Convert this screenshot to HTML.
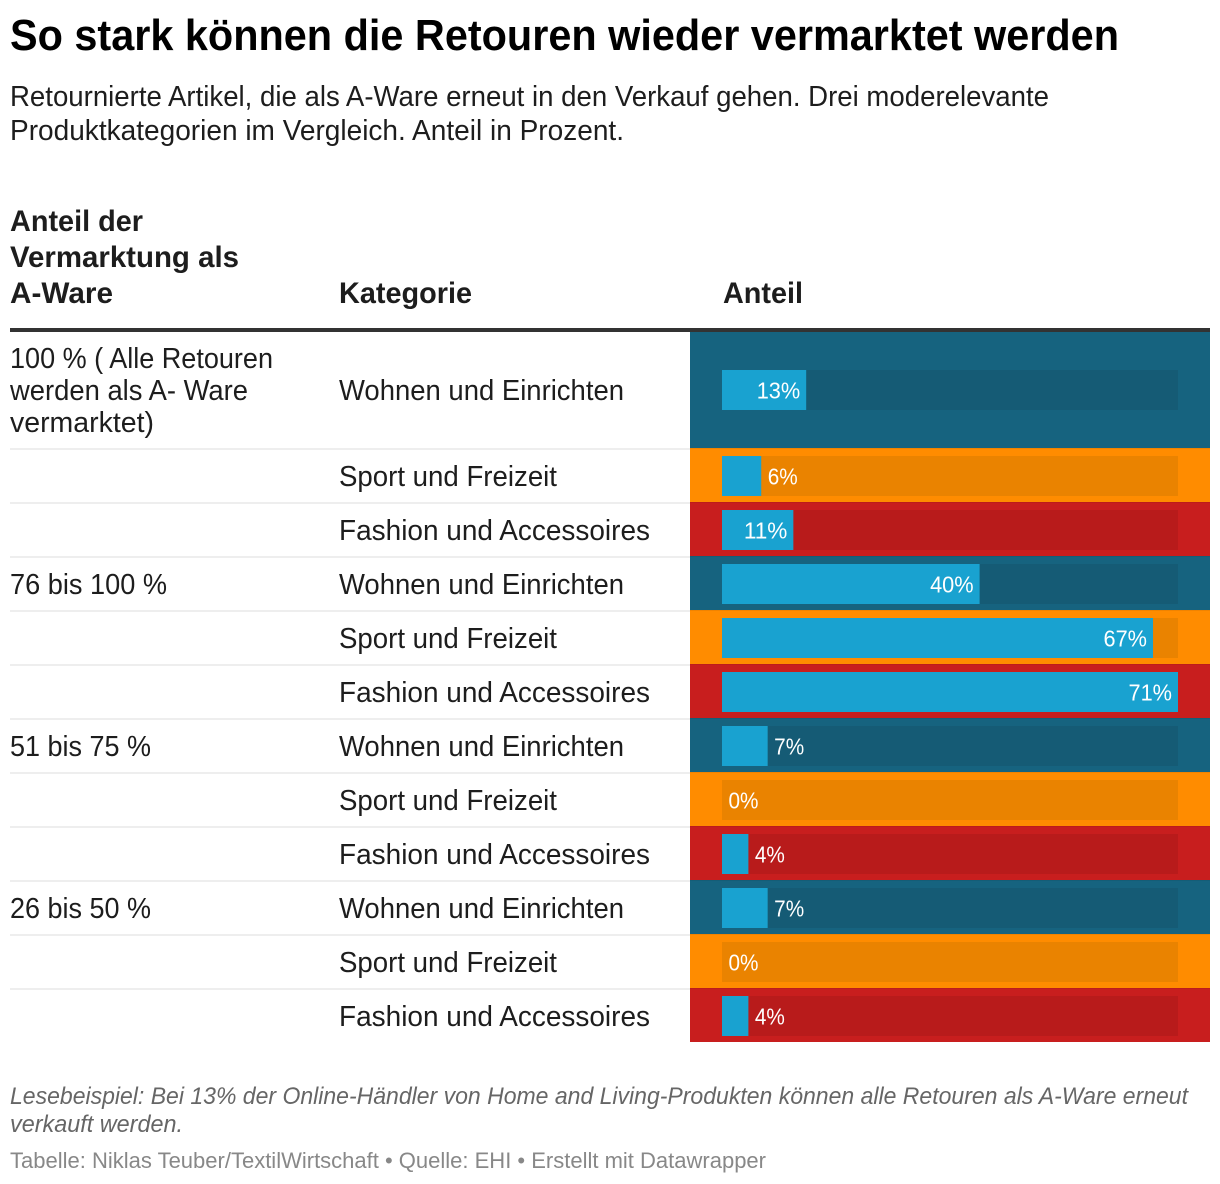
<!DOCTYPE html>
<html lang="de">
<head>
<meta charset="utf-8">
<title>So stark können die Retouren wieder vermarktet werden</title>
<style>
html,body{margin:0;padding:0;background:#fff;width:1220px;height:1184px;overflow:hidden}
svg{display:block}
text{font-family:"Liberation Sans",Arial,sans-serif}
.title{font-size:44px;font-weight:bold;fill:#000}
.sub{font-size:28.5px;fill:#1d1d1d}
.head{font-size:30px;font-weight:bold;fill:#1d1d1d}
.cell{font-size:28.5px;fill:#1d1d1d}
.note{font-size:24.5px;font-style:italic;fill:#666}
.src{font-size:22.5px;fill:#888}
.val{font-size:23px;fill:#fff}
</style>
</head>
<body>
<svg id="chart" width="1220" height="1184" viewBox="0 0 1220 1184" xmlns="http://www.w3.org/2000/svg">
<text class="title" x="10" y="50" textLength="1109" lengthAdjust="spacingAndGlyphs">So stark können die Retouren wieder vermarktet werden</text>
<text class="sub" x="10" y="106" textLength="1039" lengthAdjust="spacingAndGlyphs">Retournierte Artikel, die als A-Ware erneut in den Verkauf gehen. Drei moderelevante</text>
<text class="sub" x="10" y="140" textLength="614" lengthAdjust="spacingAndGlyphs">Produktkategorien im Vergleich. Anteil in Prozent.</text>

<text class="head" x="10" y="231" textLength="133" lengthAdjust="spacingAndGlyphs">Anteil der</text>
<text class="head" x="10" y="267" textLength="229" lengthAdjust="spacingAndGlyphs">Vermarktung als</text>
<text class="head" x="10" y="303" textLength="103" lengthAdjust="spacingAndGlyphs">A-Ware</text>
<text class="head" x="339" y="303" textLength="133" lengthAdjust="spacingAndGlyphs">Kategorie</text>
<text class="head" x="723" y="303" textLength="80" lengthAdjust="spacingAndGlyphs">Anteil</text>
<rect x="10" y="328" width="1200" height="4" fill="#333"/>

<g id="separators"></g>
<g id="bars"></g>

<text class="cell" x="10" y="368" textLength="263" lengthAdjust="spacingAndGlyphs">100 % ( Alle Retouren</text>
<text class="cell" x="10" y="400" textLength="238" lengthAdjust="spacingAndGlyphs">werden als A- Ware</text>
<text class="cell" x="10" y="432" textLength="144" lengthAdjust="spacingAndGlyphs">vermarktet)</text>
<text class="cell" x="10" y="594" textLength="157" lengthAdjust="spacingAndGlyphs">76 bis 100 %</text>
<text class="cell" x="10" y="756" textLength="141" lengthAdjust="spacingAndGlyphs">51 bis 75 %</text>
<text class="cell" x="10" y="918" textLength="141" lengthAdjust="spacingAndGlyphs">26 bis 50 %</text>

<text class="cell" x="339" y="400" textLength="285" lengthAdjust="spacingAndGlyphs">Wohnen und Einrichten</text>
<text class="cell" x="339" y="486" textLength="218" lengthAdjust="spacingAndGlyphs">Sport und Freizeit</text>
<text class="cell" x="339" y="540" textLength="311" lengthAdjust="spacingAndGlyphs">Fashion und Accessoires</text>
<text class="cell" x="339" y="594" textLength="285" lengthAdjust="spacingAndGlyphs">Wohnen und Einrichten</text>
<text class="cell" x="339" y="648" textLength="218" lengthAdjust="spacingAndGlyphs">Sport und Freizeit</text>
<text class="cell" x="339" y="702" textLength="311" lengthAdjust="spacingAndGlyphs">Fashion und Accessoires</text>
<text class="cell" x="339" y="756" textLength="285" lengthAdjust="spacingAndGlyphs">Wohnen und Einrichten</text>
<text class="cell" x="339" y="810" textLength="218" lengthAdjust="spacingAndGlyphs">Sport und Freizeit</text>
<text class="cell" x="339" y="864" textLength="311" lengthAdjust="spacingAndGlyphs">Fashion und Accessoires</text>
<text class="cell" x="339" y="918" textLength="285" lengthAdjust="spacingAndGlyphs">Wohnen und Einrichten</text>
<text class="cell" x="339" y="972" textLength="218" lengthAdjust="spacingAndGlyphs">Sport und Freizeit</text>
<text class="cell" x="339" y="1026" textLength="311" lengthAdjust="spacingAndGlyphs">Fashion und Accessoires</text>

<text class="note" x="10" y="1104" textLength="1178" lengthAdjust="spacingAndGlyphs">Lesebeispiel: Bei 13% der Online-Händler von Home and Living-Produkten können alle Retouren als A-Ware erneut</text>
<text class="note" x="10" y="1132" textLength="173" lengthAdjust="spacingAndGlyphs">verkauft werden.</text>
<text class="src" x="10" y="1168" textLength="756" lengthAdjust="spacingAndGlyphs">Tabelle: Niklas Teuber/TextilWirtschaft • Quelle: EHI • Erstellt mit Datawrapper</text>
</svg>
<script>
const wohnenValues = [13, 40, 7, 7];
const sportValues = [6, 67, 0, 0];
const fashionValues = [11, 71, 4, 4];
const maxValue = 71;

const SVGNS = 'http://www.w3.org/2000/svg';
const barsGroup = document.getElementById('bars');
const sepGroup = document.getElementById('separators');
const themes = [
  {key: 'wohnen', bg: '#16637f', track: '#155b75'},
  {key: 'sport', bg: '#ff8c00', track: '#ea8300'},
  {key: 'fashion', bg: '#c81e1e', track: '#b81b1b'}
];
const rowTop = i => i === 0 ? 332 : 448 + (i - 1) * 54;
const rowBottom = i => i === 0 ? 448 : rowTop(i) + 54;
const barTop = i => i === 0 ? 370 : rowTop(i) + 8;
const xScale = v => v <= 0 ? 0 : Math.min(456, v / maxValue * 456 + 0.7);

const rowValues = [];
for (let g = 0; g < 4; g++) {
  rowValues.push(wohnenValues[g], sportValues[g], fashionValues[g]);
}

function makeRect(parent, x, y, w, h, fill) {
  const r = document.createElementNS(SVGNS, 'rect');
  r.setAttribute('x', x);
  r.setAttribute('y', y);
  r.setAttribute('width', w);
  r.setAttribute('height', h);
  r.setAttribute('fill', fill);
  parent.appendChild(r);
  return r;
}

rowValues.forEach((value, i) => {
  const theme = themes[i % 3];
  const top = rowTop(i);
  const bottom = i === rowValues.length - 1 ? 1042 : rowBottom(i);

  if (i < rowValues.length - 1) {
    const sep = makeRect(sepGroup, 10, bottom, 680, 2, '#eeeeee');
    
    
  }

  const cell = makeRect(barsGroup, 690, top, 520, bottom - top, theme.bg);
  
  

  if (i > 0) {
    const edge = makeRect(barsGroup, 690, top, 520, 1, 'rgba(0,0,0,0.06)');
    
    
  }

  const track = makeRect(barsGroup, 722, barTop(i), 456, 40, theme.track);
  
  

  const w = xScale(value);
  const bar = makeRect(barsGroup, 722, barTop(i), w, 40, '#19a2d0');
  
  

  const label = document.createElementNS(SVGNS, 'text');
  label.setAttribute('class', 'val');
  
  
  const str = value + '%';
  const inside = value >= 10;
  const tw = (str.length - 1) * 13.5 + 16.5;
  label.setAttribute('x', inside ? 722 + w - 6 - tw : 722 + w + 6.5);
  label.setAttribute('y', barTop(i) + 28.5);
  label.setAttribute('textLength', tw);
  label.setAttribute('lengthAdjust', 'spacingAndGlyphs');
  label.textContent = str;
  barsGroup.appendChild(label);
});
</script>
</body>
</html>
